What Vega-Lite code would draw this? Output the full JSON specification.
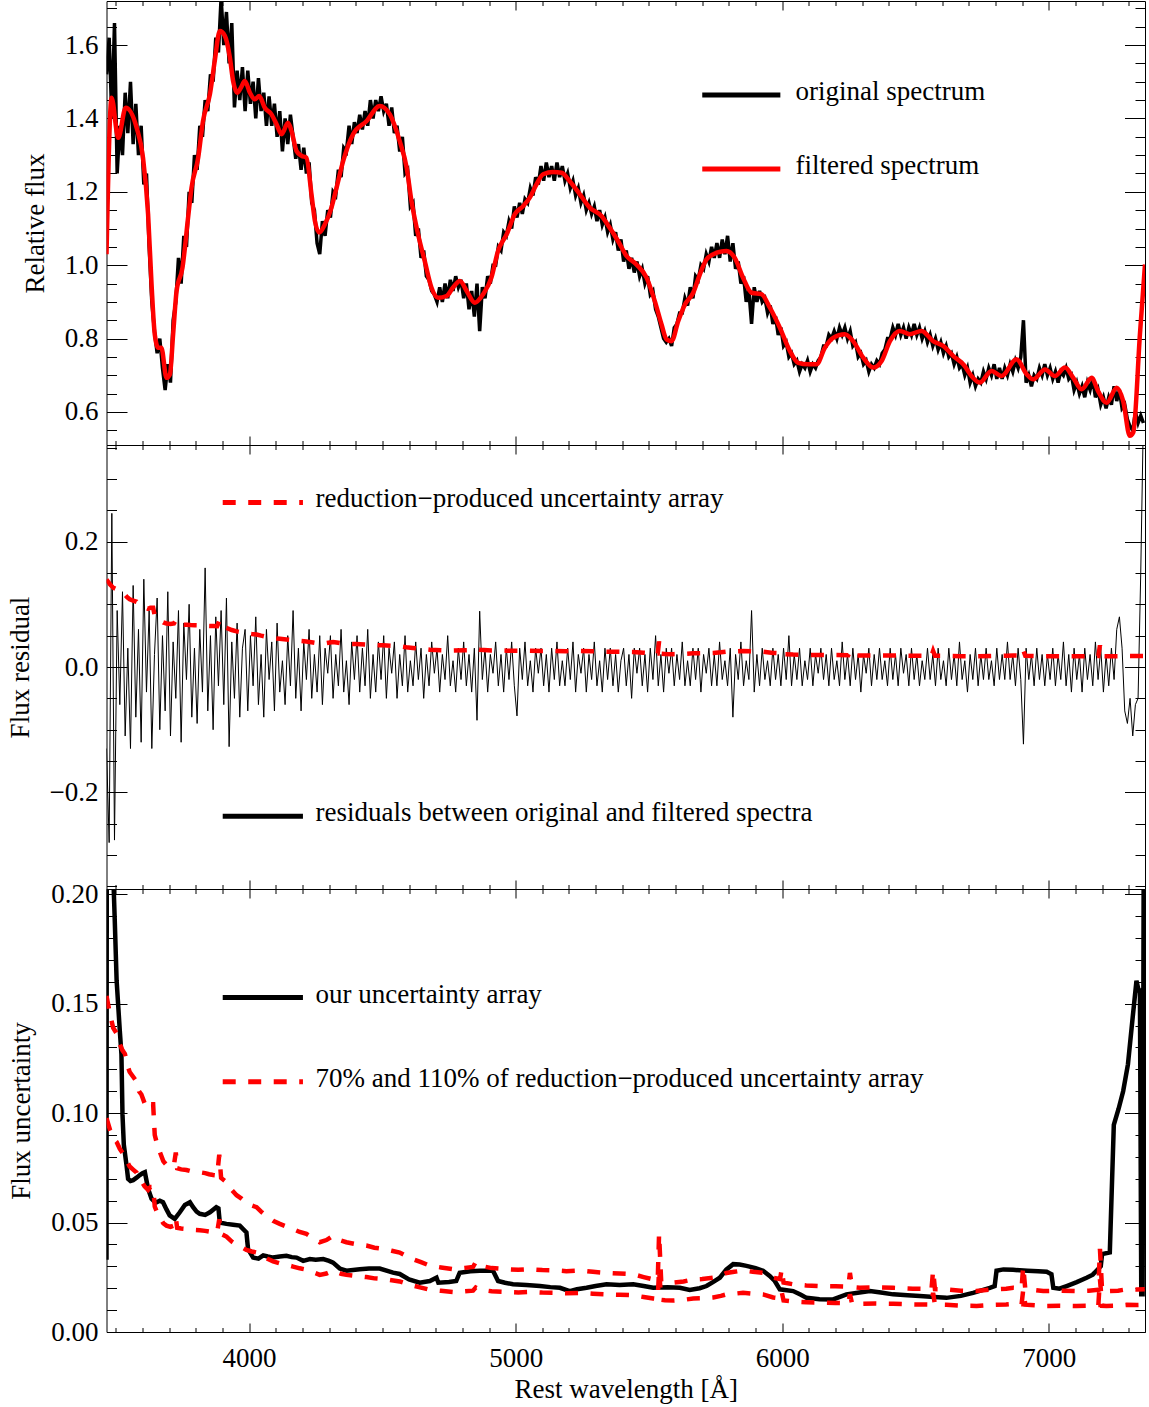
{
"$schema": "https://vega.github.io/schema/vega-lite/v6.json",
"background": "white",
"padding": {"left": 5.5, "top": 0, "right": 3, "bottom": 3},
"bounds": "flush",
"spacing": 0,
"resolve": {"scale": {"color": "independent", "strokeDash": "independent"}},
"config": {
  "view": {"stroke": null},
  "font": "Liberation Serif",
  "axis": {"labelFont": "Liberation Serif", "titleFont": "Liberation Serif", "labelFontSize": 27, "titleFontSize": 27, "titleFontWeight": "normal", "labelColor": "black", "titleColor": "black", "domainColor": "black", "tickColor": "black", "grid": false, "labelOverlap": false, "labelFlush": false, "domainWidth": 1, "tickWidth": 1}
},
"datasets": {
"spec": [
{"w":3465,"o":1.52,"r":-0.13},{"w":3475,"o":1.62,"r":-0.28},{"w":3485,"o":1.40,"r":0.245},{"w":3495,"o":1.66,"r":-0.276},{"w":3505,"o":1.25,"r":0.09},{"w":3515,"o":1.38,"r":-0.06},{"w":3525,"o":1.30,"r":0.12},{"w":3535,"o":1.47,"r":-0.11},{"w":3545,"o":1.36,"r":0.03},{"w":3555,"o":1.50,"r":-0.13},
{"w":3565,"o":1.33,"r":0.13},{"w":3575,"o":1.44,"r":-0.08},{"w":3585,"o":1.30,"r":0.06},{"w":3595,"o":1.38,"r":-0.12},{"w":3605,"o":1.22,"r":0.14},{"w":3615,"o":1.25,"r":-0.04},{"w":3625,"o":1.05,"r":0.09},{"w":3635,"o":0.90,"r":-0.13},{"w":3645,"o":0.82,"r":0.02},{"w":3655,"o":0.76,"r":0.11},
{"w":3665,"o":0.80,"r":-0.10},{"w":3675,"o":0.72,"r":0.05},{"w":3685,"o":0.66,"r":-0.07},{"w":3695,"o":0.73,"r":0.12},{"w":3705,"o":0.68,"r":-0.11},{"w":3715,"o":0.85,"r":0.04},{"w":3725,"o":0.90,"r":-0.05},{"w":3735,"o":1.02,"r":0.09},{"w":3745,"o":0.95,"r":-0.12},{"w":3755,"o":1.08,"r":0.07},
{"w":3765,"o":1.05,"r":-0.02},{"w":3775,"o":1.20,"r":0.10},{"w":3785,"o":1.17,"r":-0.08},{"w":3795,"o":1.30,"r":0.03},{"w":3805,"o":1.26,"r":-0.09},{"w":3815,"o":1.38,"r":0.06},{"w":3825,"o":1.35,"r":-0.04},{"w":3835,"o":1.45,"r":0.158},{"w":3845,"o":1.42,"r":-0.07},{"w":3855,"o":1.52,"r":0.05},
{"w":3865,"o":1.50,"r":-0.10},{"w":3875,"o":1.62,"r":0.08},{"w":3885,"o":1.58,"r":-0.03},{"w":3895,"o":1.73,"r":0.09},{"w":3905,"o":1.60,"r":-0.06},{"w":3915,"o":1.69,"r":0.11},{"w":3925,"o":1.55,"r":-0.127},{"w":3935,"o":1.66,"r":0.04},{"w":3945,"o":1.43,"r":-0.05},{"w":3955,"o":1.53,"r":0.07},
{"w":3965,"o":1.45,"r":-0.08},{"w":3975,"o":1.54,"r":0.03},{"w":3985,"o":1.42,"r":0.06},{"w":3995,"o":1.53,"r":-0.07},{"w":4005,"o":1.44,"r":0.05},{"w":4015,"o":1.50,"r":-0.03},{"w":4025,"o":1.40,"r":0.08},{"w":4035,"o":1.51,"r":-0.06},{"w":4045,"o":1.42,"r":0.02},{"w":4055,"o":1.47,"r":-0.08},
{"w":4065,"o":1.38,"r":0.06},{"w":4075,"o":1.46,"r":-0.02},{"w":4085,"o":1.38,"r":0.04},{"w":4095,"o":1.44,"r":-0.07},{"w":4105,"o":1.35,"r":0.07},{"w":4115,"o":1.42,"r":-0.04},{"w":4125,"o":1.31,"r":0.01},{"w":4135,"o":1.40,"r":-0.06},{"w":4145,"o":1.33,"r":0.05},{"w":4155,"o":1.41,"r":-0.03},
{"w":4165,"o":1.35,"r":0.09},{"w":4175,"o":1.29,"r":-0.05},{"w":4185,"o":1.33,"r":0.03},{"w":4195,"o":1.26,"r":-0.07},{"w":4205,"o":1.32,"r":0.04},{"w":4215,"o":1.25,"r":-0.02},{"w":4225,"o":1.28,"r":0.06},{"w":4235,"o":1.17,"r":-0.05},{"w":4245,"o":1.15,"r":0.02},{"w":4255,"o":1.06,"r":-0.04},
{"w":4265,"o":1.03,"r":0.05},{"w":4275,"o":1.12,"r":-0.06},{"w":4285,"o":1.08,"r":0.03},{"w":4295,"o":1.15,"r":-0.01},{"w":4305,"o":1.13,"r":0.05},{"w":4315,"o":1.20,"r":-0.05},{"w":4325,"o":1.19,"r":0.02},{"w":4335,"o":1.26,"r":-0.03},{"w":4345,"o":1.24,"r":0.06},{"w":4355,"o":1.32,"r":-0.04},
{"w":4365,"o":1.31,"r":0.01},{"w":4375,"o":1.38,"r":-0.06},{"w":4385,"o":1.33,"r":0.04},{"w":4395,"o":1.39,"r":-0.02},{"w":4405,"o":1.36,"r":0.05},{"w":4415,"o":1.41,"r":-0.04},{"w":4425,"o":1.37,"r":0.03},{"w":4435,"o":1.42,"r":-0.03},{"w":4445,"o":1.38,"r":0.06},{"w":4455,"o":1.45,"r":-0.05},
{"w":4465,"o":1.40,"r":0.02},{"w":4475,"o":1.45,"r":-0.04},{"w":4485,"o":1.42,"r":0.04},{"w":4495,"o":1.46,"r":-0.02},{"w":4505,"o":1.42,"r":0.05},{"w":4515,"o":1.44,"r":-0.05},{"w":4525,"o":1.38,"r":0.03},{"w":4535,"o":1.43,"r":-0.01},{"w":4545,"o":1.36,"r":0.04},{"w":4555,"o":1.38,"r":-0.05},
{"w":4565,"o":1.31,"r":0.02},{"w":4575,"o":1.35,"r":-0.03},{"w":4585,"o":1.25,"r":0.05},{"w":4595,"o":1.26,"r":-0.04},{"w":4605,"o":1.16,"r":0.01},{"w":4615,"o":1.17,"r":-0.03},{"w":4625,"o":1.08,"r":0.04},{"w":4635,"o":1.10,"r":-0.02},{"w":4645,"o":1.02,"r":0.03},{"w":4655,"o":1.04,"r":-0.05},
{"w":4665,"o":0.97,"r":0.02},{"w":4675,"o":0.96,"r":-0.03},{"w":4685,"o":0.93,"r":0.04},{"w":4695,"o":0.92,"r":-0.01},{"w":4705,"o":0.90,"r":0.03},{"w":4715,"o":0.94,"r":-0.04},{"w":4725,"o":0.90,"r":0.02},{"w":4735,"o":0.95,"r":-0.02},{"w":4745,"o":0.91,"r":0.05},{"w":4755,"o":0.96,"r":-0.03},
{"w":4765,"o":0.93,"r":0.01},{"w":4775,"o":0.97,"r":-0.04},{"w":4785,"o":0.94,"r":0.03},{"w":4795,"o":0.96,"r":-0.02},{"w":4805,"o":0.91,"r":0.04},{"w":4815,"o":0.95,"r":-0.03},{"w":4825,"o":0.88,"r":0.02},{"w":4835,"o":0.93,"r":-0.04},{"w":4845,"o":0.86,"r":0.03},{"w":4855,"o":0.95,"r":-0.085},
{"w":4865,"o":0.82,"r":0.089},{"w":4875,"o":0.94,"r":-0.02},{"w":4885,"o":0.91,"r":0.03},{"w":4895,"o":0.97,"r":-0.04},{"w":4905,"o":0.95,"r":0.02},{"w":4915,"o":1.00,"r":-0.01},{"w":4925,"o":1.00,"r":0.04},{"w":4935,"o":1.05,"r":-0.03},{"w":4945,"o":1.04,"r":0.02},{"w":4955,"o":1.09,"r":-0.04},
{"w":4965,"o":1.08,"r":0.03},{"w":4975,"o":1.12,"r":-0.02},{"w":4985,"o":1.10,"r":0.04},{"w":4995,"o":1.16,"r":-0.03},{"w":5005,"o":1.13,"r":-0.078},{"w":5015,"o":1.17,"r":0.03},{"w":5025,"o":1.14,"r":-0.02},{"w":5035,"o":1.18,"r":0.04},{"w":5045,"o":1.17,"r":-0.03},{"w":5055,"o":1.21,"r":0.01},
{"w":5065,"o":1.19,"r":-0.04},{"w":5075,"o":1.24,"r":0.03},{"w":5085,"o":1.22,"r":-0.01},{"w":5095,"o":1.27,"r":0.03},{"w":5105,"o":1.23,"r":-0.03},{"w":5115,"o":1.28,"r":0.02},{"w":5125,"o":1.24,"r":-0.04},{"w":5135,"o":1.27,"r":0.03},{"w":5145,"o":1.23,"r":-0.02},{"w":5155,"o":1.28,"r":0.04},
{"w":5165,"o":1.24,"r":-0.03},{"w":5175,"o":1.27,"r":0.01},{"w":5185,"o":1.23,"r":-0.03},{"w":5195,"o":1.25,"r":0.03},{"w":5205,"o":1.21,"r":-0.02},{"w":5215,"o":1.23,"r":0.04},{"w":5225,"o":1.19,"r":-0.04},{"w":5235,"o":1.21,"r":0.02},{"w":5245,"o":1.17,"r":-0.01},{"w":5255,"o":1.19,"r":0.03},
{"w":5265,"o":1.15,"r":-0.04},{"w":5275,"o":1.17,"r":0.02},{"w":5285,"o":1.14,"r":-0.02},{"w":5295,"o":1.16,"r":0.04},{"w":5305,"o":1.12,"r":-0.03},{"w":5315,"o":1.15,"r":0.01},{"w":5325,"o":1.11,"r":-0.04},{"w":5335,"o":1.13,"r":0.03},{"w":5345,"o":1.09,"r":-0.02},{"w":5355,"o":1.11,"r":0.03},
{"w":5365,"o":1.07,"r":-0.03},{"w":5375,"o":1.09,"r":0.02},{"w":5385,"o":1.04,"r":-0.04},{"w":5395,"o":1.07,"r":0.01},{"w":5405,"o":1.01,"r":0.03},{"w":5415,"o":1.04,"r":-0.03},{"w":5425,"o":0.99,"r":0.02},{"w":5435,"o":1.02,"r":-0.05},{"w":5445,"o":0.98,"r":0.03},{"w":5455,"o":1.01,"r":-0.01},
{"w":5465,"o":0.97,"r":0.03},{"w":5475,"o":0.99,"r":-0.03},{"w":5485,"o":0.95,"r":0.02},{"w":5495,"o":0.97,"r":-0.04},{"w":5505,"o":0.92,"r":0.03},{"w":5515,"o":0.93,"r":-0.02},{"w":5525,"o":0.88,"r":0.05},{"w":5535,"o":0.86,"r":-0.03},{"w":5545,"o":0.83,"r":0.02},{"w":5555,"o":0.80,"r":-0.04},
{"w":5565,"o":0.79,"r":0.03},{"w":5575,"o":0.80,"r":-0.01},{"w":5585,"o":0.78,"r":0.03},{"w":5595,"o":0.83,"r":-0.03},{"w":5605,"o":0.84,"r":0.02},{"w":5615,"o":0.87,"r":-0.02},{"w":5625,"o":0.87,"r":0.04},{"w":5635,"o":0.91,"r":-0.03},{"w":5645,"o":0.89,"r":0.01},{"w":5655,"o":0.94,"r":-0.03},
{"w":5665,"o":0.91,"r":0.03},{"w":5675,"o":0.97,"r":-0.02},{"w":5685,"o":0.96,"r":0.03},{"w":5695,"o":1.00,"r":-0.04},{"w":5705,"o":0.99,"r":0.02},{"w":5715,"o":1.03,"r":-0.01},{"w":5725,"o":1.01,"r":0.03},{"w":5735,"o":1.05,"r":-0.03},{"w":5745,"o":1.02,"r":0.02},{"w":5755,"o":1.06,"r":-0.03},
{"w":5765,"o":1.02,"r":0.04},{"w":5775,"o":1.07,"r":-0.02},{"w":5785,"o":1.03,"r":0.01},{"w":5795,"o":1.08,"r":-0.03},{"w":5805,"o":1.01,"r":0.03},{"w":5815,"o":1.06,"r":-0.08},{"w":5825,"o":0.99,"r":0.02},{"w":5835,"o":1.01,"r":-0.02},{"w":5845,"o":0.95,"r":0.04},{"w":5855,"o":0.97,"r":-0.03},
{"w":5865,"o":0.90,"r":0.01},{"w":5875,"o":0.93,"r":-0.02},{"w":5885,"o":0.84,"r":0.09},{"w":5895,"o":0.94,"r":-0.04},{"w":5905,"o":0.90,"r":0.02},{"w":5915,"o":0.93,"r":-0.03},{"w":5925,"o":0.90,"r":0.03},{"w":5935,"o":0.91,"r":-0.02},{"w":5945,"o":0.87,"r":0.01},{"w":5955,"o":0.89,"r":-0.03},
{"w":5965,"o":0.84,"r":0.03},{"w":5975,"o":0.86,"r":-0.02},{"w":5985,"o":0.81,"r":0.02},{"w":5995,"o":0.83,"r":-0.03},{"w":6005,"o":0.78,"r":0.03},{"w":6015,"o":0.79,"r":-0.02},{"w":6025,"o":0.75,"r":0.05},{"w":6035,"o":0.76,"r":-0.03},{"w":6045,"o":0.73,"r":0.02},{"w":6055,"o":0.74,"r":-0.02},
{"w":6065,"o":0.71,"r":0.03},{"w":6075,"o":0.73,"r":-0.03},{"w":6085,"o":0.72,"r":0.01},{"w":6095,"o":0.74,"r":-0.02},{"w":6105,"o":0.71,"r":0.03},{"w":6115,"o":0.73,"r":-0.03},{"w":6125,"o":0.72,"r":0.02},{"w":6135,"o":0.74,"r":-0.01},{"w":6145,"o":0.75,"r":0.03},{"w":6155,"o":0.78,"r":-0.02},
{"w":6165,"o":0.78,"r":0.02},{"w":6175,"o":0.81,"r":-0.03},{"w":6185,"o":0.80,"r":0.03},{"w":6195,"o":0.82,"r":-0.02},{"w":6205,"o":0.80,"r":0.01},{"w":6215,"o":0.83,"r":-0.03},{"w":6225,"o":0.81,"r":0.04},{"w":6235,"o":0.83,"r":-0.02},{"w":6245,"o":0.80,"r":0.02},{"w":6255,"o":0.82,"r":-0.03},
{"w":6265,"o":0.78,"r":0.03},{"w":6275,"o":0.79,"r":-0.02},{"w":6285,"o":0.75,"r":0.02},{"w":6295,"o":0.76,"r":-0.04},{"w":6305,"o":0.73,"r":0.02},{"w":6315,"o":0.74,"r":-0.01},{"w":6325,"o":0.71,"r":0.03},{"w":6335,"o":0.73,"r":-0.03},{"w":6345,"o":0.72,"r":0.02},{"w":6355,"o":0.74,"r":-0.02},
{"w":6365,"o":0.73,"r":0.03},{"w":6375,"o":0.76,"r":-0.02},{"w":6385,"o":0.77,"r":0.01},{"w":6395,"o":0.80,"r":-0.03},{"w":6405,"o":0.80,"r":0.03},{"w":6415,"o":0.83,"r":-0.02},{"w":6425,"o":0.81,"r":0.02},{"w":6435,"o":0.84,"r":-0.03},{"w":6445,"o":0.81,"r":0.03},{"w":6455,"o":0.83,"r":-0.01},
{"w":6465,"o":0.80,"r":0.02},{"w":6475,"o":0.83,"r":-0.03},{"w":6485,"o":0.81,"r":0.03},{"w":6495,"o":0.84,"r":-0.02},{"w":6505,"o":0.81,"r":0.02},{"w":6515,"o":0.83,"r":-0.03},{"w":6525,"o":0.80,"r":0.01},{"w":6535,"o":0.82,"r":-0.02},{"w":6545,"o":0.79,"r":0.03},{"w":6555,"o":0.81,"r":-0.02},
{"w":6565,"o":0.78,"r":0.02},{"w":6575,"o":0.80,"r":-0.03},{"w":6585,"o":0.77,"r":0.03},{"w":6595,"o":0.79,"r":-0.02},{"w":6605,"o":0.76,"r":0.01},{"w":6615,"o":0.78,"r":-0.03},{"w":6625,"o":0.75,"r":0.03},{"w":6635,"o":0.76,"r":-0.02},{"w":6645,"o":0.73,"r":0.02},{"w":6655,"o":0.75,"r":-0.03},
{"w":6665,"o":0.72,"r":0.04},{"w":6675,"o":0.73,"r":-0.02},{"w":6685,"o":0.70,"r":0.01},{"w":6695,"o":0.72,"r":-0.04},{"w":6705,"o":0.68,"r":0.02},{"w":6715,"o":0.70,"r":-0.02},{"w":6725,"o":0.67,"r":0.03},{"w":6735,"o":0.69,"r":-0.03},{"w":6745,"o":0.68,"r":0.02},{"w":6755,"o":0.71,"r":-0.02},
{"w":6765,"o":0.69,"r":0.03},{"w":6775,"o":0.72,"r":-0.02},{"w":6785,"o":0.70,"r":0.01},{"w":6795,"o":0.73,"r":-0.03},{"w":6805,"o":0.69,"r":0.03},{"w":6815,"o":0.72,"r":-0.02},{"w":6825,"o":0.69,"r":0.02},{"w":6835,"o":0.72,"r":-0.02},{"w":6845,"o":0.70,"r":0.04},{"w":6855,"o":0.73,"r":-0.02},
{"w":6865,"o":0.71,"r":0.02},{"w":6875,"o":0.74,"r":-0.03},{"w":6885,"o":0.72,"r":0.03},{"w":6895,"o":0.75,"r":-0.02},{"w":6905,"o":0.85,"r":-0.123},{"w":6915,"o":0.68,"r":0.03},{"w":6925,"o":0.70,"r":-0.02},{"w":6935,"o":0.67,"r":0.02},{"w":6945,"o":0.70,"r":-0.03},{"w":6955,"o":0.69,"r":0.03},
{"w":6965,"o":0.72,"r":-0.02},{"w":6975,"o":0.70,"r":0.02},{"w":6985,"o":0.73,"r":-0.03},{"w":6995,"o":0.70,"r":0.02},{"w":7005,"o":0.72,"r":-0.02},{"w":7015,"o":0.69,"r":0.03},{"w":7025,"o":0.71,"r":-0.03},{"w":7035,"o":0.68,"r":0.02},{"w":7045,"o":0.71,"r":-0.02},{"w":7055,"o":0.70,"r":0.04},
{"w":7065,"o":0.72,"r":-0.03},{"w":7075,"o":0.69,"r":0.02},{"w":7085,"o":0.70,"r":-0.04},{"w":7095,"o":0.66,"r":0.03},{"w":7105,"o":0.68,"r":-0.02},{"w":7115,"o":0.65,"r":0.02},{"w":7125,"o":0.67,"r":-0.04},{"w":7135,"o":0.64,"r":0.03},{"w":7145,"o":0.68,"r":-0.02},{"w":7155,"o":0.66,"r":0.02},
{"w":7165,"o":0.69,"r":-0.03},{"w":7175,"o":0.64,"r":0.04},{"w":7185,"o":0.66,"r":-0.02},{"w":7195,"o":0.62,"r":0.03},{"w":7205,"o":0.64,"r":-0.04},{"w":7215,"o":0.61,"r":0.02},{"w":7225,"o":0.64,"r":-0.03},{"w":7235,"o":0.62,"r":0.03},{"w":7245,"o":0.67,"r":-0.02},{"w":7255,"o":0.63,"r":0.06},
{"w":7265,"o":0.66,"r":0.08},{"w":7275,"o":0.61,"r":0.03},{"w":7285,"o":0.62,"r":-0.07},{"w":7295,"o":0.58,"r":-0.09},{"w":7305,"o":0.56,"r":-0.05},{"w":7315,"o":0.55,"r":-0.11},{"w":7325,"o":0.60,"r":-0.06},{"w":7335,"o":0.57,"r":-0.05},{"w":7345,"o":0.59,"r":0.15},{"w":7355,"o":0.57,"r":0.40}
],
"filt": [
{"w":3465,"f":1.03},{"w":3484,"f":1.456},{"w":3509,"f":1.347},{"w":3537,"f":1.429},{"w":3578,"f":1.375},{"w":3602,"f":1.293},{"w":3621,"f":1.139},{"w":3634,"f":0.948},{"w":3646,"f":0.812},{"w":3659,"f":0.775},
{"w":3671,"f":0.775},{"w":3690,"f":0.693},{"w":3703,"f":0.703},{"w":3715,"f":0.812},{"w":3728,"f":0.93},{"w":3750,"f":0.993},{"w":3771,"f":1.129},{"w":3784,"f":1.211},{"w":3809,"f":1.293},{"w":3827,"f":1.393},
{"w":3853,"f":1.466},{"w":3871,"f":1.556},{"w":3890,"f":1.638},{"w":3909,"f":1.625},{"w":3928,"f":1.565},{"w":3940,"f":1.502},{"w":3955,"f":1.47},{"w":3968,"f":1.482},{"w":3984,"f":1.502},{"w":4003,"f":1.47},
{"w":4021,"f":1.452},{"w":4038,"f":1.461},{"w":4059,"f":1.429},{"w":4084,"f":1.411},{"w":4103,"f":1.384},{"w":4122,"f":1.357},{"w":4146,"f":1.388},{"w":4159,"f":1.366},{"w":4178,"f":1.311},{"w":4197,"f":1.298},
{"w":4215,"f":1.293},{"w":4234,"f":1.193},{"w":4247,"f":1.12},{"w":4263,"f":1.089},{"w":4284,"f":1.111},{"w":4309,"f":1.157},{"w":4328,"f":1.211},{"w":4353,"f":1.284},{"w":4390,"f":1.357},{"w":4441,"f":1.393},
{"w":4490,"f":1.434},{"w":4528,"f":1.411},{"w":4565,"f":1.338},{"w":4591,"f":1.266},{"w":4609,"f":1.175},{"w":4634,"f":1.084},{"w":4659,"f":1.011},{"w":4684,"f":0.939},{"w":4709,"f":0.911},{"w":4741,"f":0.916},
{"w":4765,"f":0.939},{"w":4791,"f":0.957},{"w":4816,"f":0.93},{"w":4847,"f":0.898},{"w":4878,"f":0.921},{"w":4909,"f":0.966},{"w":4934,"f":1.039},{"w":4966,"f":1.084},{"w":4997,"f":1.139},{"w":5028,"f":1.161},
{"w":5053,"f":1.184},{"w":5078,"f":1.22},{"w":5103,"f":1.248},{"w":5141,"f":1.254},{"w":5172,"f":1.252},{"w":5203,"f":1.229},{"w":5241,"f":1.193},{"w":5278,"f":1.157},{"w":5322,"f":1.134},{"w":5353,"f":1.102},
{"w":5384,"f":1.066},{"w":5416,"f":1.025},{"w":5453,"f":1.002},{"w":5491,"f":0.966},{"w":5522,"f":0.902},{"w":5547,"f":0.839},{"w":5566,"f":0.798},{"w":5585,"f":0.793},{"w":5610,"f":0.848},{"w":5635,"f":0.893},
{"w":5666,"f":0.925},{"w":5691,"f":0.975},{"w":5716,"f":1.016},{"w":5754,"f":1.034},{"w":5791,"f":1.039},{"w":5822,"f":1.02},{"w":5853,"f":0.966},{"w":5885,"f":0.925},{"w":5922,"f":0.921},{"w":5954,"f":0.884},
{"w":5991,"f":0.83},{"w":6029,"f":0.766},{"w":6060,"f":0.734},{"w":6097,"f":0.73},{"w":6129,"f":0.73},{"w":6160,"f":0.775},{"w":6191,"f":0.802},{"w":6235,"f":0.812},{"w":6266,"f":0.793},{"w":6304,"f":0.748},
{"w":6341,"f":0.721},{"w":6373,"f":0.739},{"w":6404,"f":0.793},{"w":6441,"f":0.821},{"w":6479,"f":0.812},{"w":6523,"f":0.821},{"w":6566,"f":0.793},{"w":6604,"f":0.78},{"w":6641,"f":0.753},{"w":6679,"f":0.73},
{"w":6716,"f":0.693},{"w":6741,"f":0.68},{"w":6785,"f":0.712},{"w":6823,"f":0.698},{"w":6879,"f":0.744},{"w":6917,"f":0.703},{"w":6942,"f":0.689},{"w":6986,"f":0.716},{"w":7023,"f":0.698},{"w":7061,"f":0.721},
{"w":7092,"f":0.693},{"w":7123,"f":0.662},{"w":7161,"f":0.693},{"w":7185,"f":0.657},{"w":7217,"f":0.625},{"w":7255,"f":0.666},{"w":7279,"f":0.63},{"w":7304,"f":0.535},{"w":7317,"f":0.544},{"w":7342,"f":0.812},{"w":7361,"f":1.002}
],
"red": [
{"w":3465,"u":0.1396,"u70":0.0977,"u110":0.1536},{"w":3478,"u":0.132,"u70":0.0924,"u110":0.1452},{"w":3490,"u":0.1264,"u70":0.0885,"u110":0.139},{"w":3503,"u":0.124,"u70":0.0868,"u110":0.1364},{"w":3515,"u":0.1195,"u70":0.0837,"u110":0.1315},
{"w":3525,"u":0.117,"u70":0.0819,"u110":0.1287},{"w":3534,"u":0.1155,"u70":0.0809,"u110":0.1271},{"w":3543,"u":0.111,"u70":0.0777,"u110":0.1221},{"w":3552,"u":0.108,"u70":0.0756,"u110":0.1188},{"w":3565,"u":0.106,"u70":0.0742,"u110":0.1166},
{"w":3578,"u":0.104,"u70":0.0728,"u110":0.1144},{"w":3587,"u":0.1,"u70":0.07,"u110":0.11},{"w":3596,"u":0.0986,"u70":0.069,"u110":0.1085},{"w":3608,"u":0.095,"u70":0.0665,"u110":0.1045},{"w":3621,"u":0.0927,"u70":0.0649,"u110":0.102},
{"w":3630,"u":0.0945,"u70":0.0662,"u110":0.104},{"w":3640,"u":0.0945,"u70":0.0662,"u110":0.104},{"w":3646,"u":0.0818,"u70":0.0573,"u110":0.09},{"w":3655,"u":0.078,"u70":0.0546,"u110":0.0858},{"w":3665,"u":0.0748,"u70":0.0524,"u110":0.0823},
{"w":3678,"u":0.071,"u70":0.0497,"u110":0.0781},{"w":3690,"u":0.0694,"u70":0.0486,"u110":0.0763},{"w":3705,"u":0.0685,"u70":0.048,"u110":0.0754},{"w":3718,"u":0.0694,"u70":0.0486,"u110":0.0763},{"w":3725,"u":0.0745,"u70":0.0522,"u110":0.082},
{"w":3730,"u":0.068,"u70":0.0476,"u110":0.0748},{"w":3745,"u":0.0675,"u70":0.0473,"u110":0.0743},{"w":3765,"u":0.0673,"u70":0.0471,"u110":0.074},{"w":3780,"u":0.0668,"u70":0.0468,"u110":0.0735},{"w":3795,"u":0.0665,"u70":0.0466,"u110":0.0732},
{"w":3815,"u":0.0664,"u70":0.0465,"u110":0.073},{"w":3835,"u":0.066,"u70":0.0462,"u110":0.0726},{"w":3850,"u":0.0655,"u70":0.0459,"u110":0.0721},{"w":3865,"u":0.0652,"u70":0.0456,"u110":0.0717},{"w":3880,"u":0.065,"u70":0.0455,"u110":0.0715},
{"w":3888,"u":0.0736,"u70":0.0515,"u110":0.081},{"w":3895,"u":0.064,"u70":0.0448,"u110":0.0704},{"w":3915,"u":0.0623,"u70":0.0436,"u110":0.0685},{"w":3935,"u":0.059,"u70":0.0413,"u110":0.0649},{"w":3953,"u":0.0568,"u70":0.0398,"u110":0.0625},
{"w":3970,"u":0.0555,"u70":0.0389,"u110":0.0611},{"w":3990,"u":0.0536,"u70":0.0375,"u110":0.059},{"w":4010,"u":0.0525,"u70":0.0368,"u110":0.0578},{"w":4028,"u":0.0518,"u70":0.0363,"u110":0.057},{"w":4045,"u":0.05,"u70":0.035,"u110":0.055},
{"w":4065,"u":0.0482,"u70":0.0337,"u110":0.053},{"w":4090,"u":0.0462,"u70":0.0323,"u110":0.0508},{"w":4115,"u":0.0449,"u70":0.0314,"u110":0.0494},{"w":4140,"u":0.0438,"u70":0.0307,"u110":0.0482},{"w":4165,"u":0.0427,"u70":0.0299,"u110":0.047},
{"w":4190,"u":0.0415,"u70":0.0291,"u110":0.0457},{"w":4215,"u":0.0407,"u70":0.0285,"u110":0.0448},{"w":4240,"u":0.039,"u70":0.0273,"u110":0.0429},{"w":4265,"u":0.0373,"u70":0.0261,"u110":0.041},{"w":4290,"u":0.0382,"u70":0.0267,"u110":0.042},
{"w":4315,"u":0.04,"u70":0.028,"u110":0.044},{"w":4328,"u":0.0392,"u70":0.0274,"u110":0.0431},{"w":4345,"u":0.038,"u70":0.0266,"u110":0.0418},{"w":4365,"u":0.0373,"u70":0.0261,"u110":0.041},{"w":4400,"u":0.0365,"u70":0.0256,"u110":0.0402},
{"w":4440,"u":0.0359,"u70":0.0251,"u110":0.0395},{"w":4470,"u":0.035,"u70":0.0245,"u110":0.0385},{"w":4503,"u":0.0345,"u70":0.0242,"u110":0.038},{"w":4535,"u":0.0337,"u70":0.0236,"u110":0.0371},{"w":4565,"u":0.033,"u70":0.0231,"u110":0.0363},
{"w":4590,"u":0.0315,"u70":0.0221,"u110":0.0347},{"w":4614,"u":0.0303,"u70":0.0212,"u110":0.0333},{"w":4645,"u":0.029,"u70":0.0203,"u110":0.0319},{"w":4678,"u":0.0275,"u70":0.0193,"u110":0.0303},{"w":4720,"u":0.0268,"u70":0.0188,"u110":0.0295},
{"w":4765,"u":0.0261,"u70":0.0183,"u110":0.0287},{"w":4810,"u":0.0266,"u70":0.0186,"u110":0.0293},{"w":4840,"u":0.027,"u70":0.0189,"u110":0.0297},{"w":4850,"u":0.029,"u70":0.0203,"u110":0.0319},{"w":4866,"u":0.0275,"u70":0.0193,"u110":0.0303},
{"w":4910,"u":0.0265,"u70":0.0186,"u110":0.0292},{"w":4966,"u":0.0261,"u70":0.0183,"u110":0.0287},{"w":5010,"u":0.0258,"u70":0.0181,"u110":0.0284},{"w":5053,"u":0.0261,"u70":0.0183,"u110":0.0287},{"w":5100,"u":0.0257,"u70":0.018,"u110":0.0283},
{"w":5141,"u":0.0256,"u70":0.0179,"u110":0.0282},{"w":5190,"u":0.0253,"u70":0.0177,"u110":0.0278},{"w":5241,"u":0.0255,"u70":0.0179,"u110":0.0281},{"w":5290,"u":0.025,"u70":0.0175,"u110":0.0275},{"w":5341,"u":0.0245,"u70":0.0172,"u110":0.027},
{"w":5390,"u":0.0243,"u70":0.017,"u110":0.0267},{"w":5441,"u":0.024,"u70":0.0168,"u110":0.0264},{"w":5480,"u":0.0228,"u70":0.016,"u110":0.0251},{"w":5516,"u":0.0218,"u70":0.0153,"u110":0.024},{"w":5533,"u":0.0215,"u70":0.0151,"u110":0.0237},
{"w":5538,"u":0.0407,"u70":0.0285,"u110":0.0448},{"w":5546,"u":0.021,"u70":0.0147,"u110":0.0231},{"w":5560,"u":0.0207,"u70":0.0145,"u110":0.0228},{"w":5591,"u":0.0205,"u70":0.0144,"u110":0.0226},{"w":5630,"u":0.021,"u70":0.0147,"u110":0.0231},
{"w":5666,"u":0.0218,"u70":0.0153,"u110":0.024},{"w":5700,"u":0.022,"u70":0.0154,"u110":0.0242},{"w":5741,"u":0.0225,"u70":0.0158,"u110":0.0248},{"w":5770,"u":0.0235,"u70":0.0165,"u110":0.0259},{"w":5791,"u":0.0245,"u70":0.0172,"u110":0.027},
{"w":5820,"u":0.025,"u70":0.0175,"u110":0.0275},{"w":5853,"u":0.0255,"u70":0.0179,"u110":0.0281},{"w":5890,"u":0.025,"u70":0.0175,"u110":0.0275},{"w":5928,"u":0.0245,"u70":0.0172,"u110":0.027},{"w":5966,"u":0.0225,"u70":0.0158,"u110":0.0248},
{"w":5992,"u":0.022,"u70":0.0154,"u110":0.0242},{"w":5998,"u":0.0261,"u70":0.0183,"u110":0.0287},{"w":6005,"u":0.0205,"u70":0.0144,"u110":0.0226},{"w":6041,"u":0.0198,"u70":0.0139,"u110":0.0218},{"w":6090,"u":0.0194,"u70":0.0136,"u110":0.0213},
{"w":6141,"u":0.0191,"u70":0.0134,"u110":0.021},{"w":6200,"u":0.019,"u70":0.0133,"u110":0.0209},{"w":6248,"u":0.0188,"u70":0.0132,"u110":0.0207},{"w":6254,"u":0.0245,"u70":0.0172,"u110":0.027},{"w":6262,"u":0.0186,"u70":0.013,"u110":0.0205},
{"w":6291,"u":0.0184,"u70":0.0129,"u110":0.0202},{"w":6350,"u":0.0185,"u70":0.013,"u110":0.0204},{"w":6416,"u":0.0184,"u70":0.0129,"u110":0.0202},{"w":6490,"u":0.018,"u70":0.0126,"u110":0.0198},{"w":6560,"u":0.0178,"u70":0.0125,"u110":0.0196},
{"w":6566,"u":0.0255,"u70":0.0179,"u110":0.0281},{"w":6573,"u":0.0178,"u70":0.0125,"u110":0.0196},{"w":6616,"u":0.0177,"u70":0.0124,"u110":0.0195},{"w":6670,"u":0.0172,"u70":0.012,"u110":0.0189},{"w":6729,"u":0.017,"u70":0.0119,"u110":0.0187},
{"w":6792,"u":0.0177,"u70":0.0124,"u110":0.0195},{"w":6840,"u":0.018,"u70":0.0126,"u110":0.0198},{"w":6867,"u":0.0184,"u70":0.0129,"u110":0.0202},{"w":6898,"u":0.0182,"u70":0.0127,"u110":0.02},{"w":6904,"u":0.0273,"u70":0.0191,"u110":0.03},
{"w":6912,"u":0.0178,"u70":0.0125,"u110":0.0196},{"w":6979,"u":0.017,"u70":0.0119,"u110":0.0187},{"w":7040,"u":0.0172,"u70":0.012,"u110":0.0189},{"w":7104,"u":0.017,"u70":0.0119,"u110":0.0187},{"w":7150,"u":0.0172,"u70":0.012,"u110":0.0189},
{"w":7186,"u":0.0175,"u70":0.0123,"u110":0.0193},{"w":7192,"u":0.0345,"u70":0.0242,"u110":0.038},{"w":7200,"u":0.0172,"u70":0.012,"u110":0.0189},{"w":7217,"u":0.017,"u70":0.0119,"u110":0.0187},{"w":7260,"u":0.0172,"u70":0.012,"u110":0.0189},
{"w":7292,"u":0.0177,"u70":0.0124,"u110":0.0195},{"w":7330,"u":0.0176,"u70":0.0123,"u110":0.0194},{"w":7360,"u":0.0177,"u70":0.0124,"u110":0.0195}
],
"unc": [
{"w":3465,"e":0.033},{"w":3466,"e":0.21},{"w":3490,"e":0.21},{"w":3496,"e":0.188},{"w":3503,"e":0.1605},{"w":3515,"e":0.1375},{"w":3521,"e":0.127},{"w":3525,"e":0.0993},{"w":3530,"e":0.0855},{"w":3540,"e":0.0763},
{"w":3546,"e":0.07},{"w":3555,"e":0.069},{"w":3565,"e":0.0694},{"w":3578,"e":0.0705},{"w":3590,"e":0.0717},{"w":3600,"e":0.0725},{"w":3609,"e":0.073},{"w":3621,"e":0.0655},{"w":3634,"e":0.0609},{"w":3643,"e":0.0598},
{"w":3653,"e":0.0593},{"w":3665,"e":0.06},{"w":3677,"e":0.0593},{"w":3690,"e":0.056},{"w":3702,"e":0.0533},{"w":3721,"e":0.0517},{"w":3740,"e":0.0547},{"w":3759,"e":0.058},{"w":3778,"e":0.0593},{"w":3790,"e":0.057},
{"w":3803,"e":0.055},{"w":3815,"e":0.054},{"w":3835,"e":0.0535},{"w":3853,"e":0.0547},{"w":3877,"e":0.057},{"w":3885,"e":0.0565},{"w":3890,"e":0.05},{"w":3915,"e":0.0494},{"w":3940,"e":0.049},{"w":3965,"e":0.0486},
{"w":3990,"e":0.0455},{"w":3996,"e":0.0379},{"w":4015,"e":0.034},{"w":4035,"e":0.0335},{"w":4053,"e":0.035},{"w":4070,"e":0.0345},{"w":4090,"e":0.034},{"w":4115,"e":0.0345},{"w":4140,"e":0.0348},{"w":4160,"e":0.0342},
{"w":4178,"e":0.034},{"w":4203,"e":0.0325},{"w":4228,"e":0.0333},{"w":4250,"e":0.033},{"w":4278,"e":0.0333},{"w":4300,"e":0.0325},{"w":4315,"e":0.0317},{"w":4340,"e":0.029},{"w":4365,"e":0.028},{"w":4415,"e":0.0287},
{"w":4450,"e":0.029},{"w":4490,"e":0.029},{"w":4540,"e":0.0271},{"w":4565,"e":0.0265},{"w":4600,"e":0.024},{"w":4640,"e":0.0225},{"w":4678,"e":0.0233},{"w":4703,"e":0.0248},{"w":4710,"e":0.0225},{"w":4750,"e":0.0228},
{"w":4777,"e":0.0233},{"w":4790,"e":0.0271},{"w":4830,"e":0.0278},{"w":4865,"e":0.028},{"w":4915,"e":0.028},{"w":4934,"e":0.0233},{"w":4960,"e":0.0225},{"w":4990,"e":0.0218},{"w":5040,"e":0.0215},{"w":5091,"e":0.021},
{"w":5130,"e":0.0205},{"w":5166,"e":0.0202},{"w":5203,"e":0.0187},{"w":5230,"e":0.0195},{"w":5266,"e":0.0202},{"w":5300,"e":0.021},{"w":5341,"e":0.0218},{"w":5390,"e":0.0215},{"w":5441,"e":0.0218},{"w":5480,"e":0.021},
{"w":5516,"e":0.0202},{"w":5570,"e":0.0205},{"w":5616,"e":0.0202},{"w":5653,"e":0.0192},{"w":5690,"e":0.02},{"w":5716,"e":0.021},{"w":5740,"e":0.0228},{"w":5766,"e":0.0248},{"w":5790,"e":0.0285},{"w":5816,"e":0.031},
{"w":5840,"e":0.0308},{"w":5866,"e":0.0302},{"w":5900,"e":0.0292},{"w":5928,"e":0.028},{"w":5953,"e":0.0256},{"w":5972,"e":0.0233},{"w":5991,"e":0.0195},{"w":6041,"e":0.0187},{"w":6070,"e":0.017},{"w":6091,"e":0.0156},
{"w":6140,"e":0.015},{"w":6191,"e":0.0149},{"w":6241,"e":0.0172},{"w":6290,"e":0.018},{"w":6329,"e":0.0187},{"w":6370,"e":0.018},{"w":6416,"e":0.0172},{"w":6470,"e":0.0168},{"w":6516,"e":0.0164},{"w":6570,"e":0.016},
{"w":6616,"e":0.0156},{"w":6670,"e":0.0165},{"w":6716,"e":0.0179},{"w":6779,"e":0.0202},{"w":6797,"e":0.021},{"w":6804,"e":0.028},{"w":6830,"e":0.0286},{"w":6866,"e":0.0284},{"w":6920,"e":0.028},{"w":6960,"e":0.0278},
{"w":6992,"e":0.0275},{"w":7010,"e":0.0264},{"w":7017,"e":0.0202},{"w":7040,"e":0.0198},{"w":7067,"e":0.021},{"w":7105,"e":0.0228},{"w":7142,"e":0.0248},{"w":7165,"e":0.0262},{"w":7179,"e":0.028},{"w":7195,"e":0.03},
{"w":7200,"e":0.0356},{"w":7229,"e":0.0364},{"w":7244,"e":0.0946},{"w":7262,"e":0.102},{"w":7279,"e":0.11},{"w":7297,"e":0.1223},{"w":7316,"e":0.1452},{"w":7329,"e":0.1605},{"w":7337,"e":0.156},{"w":7342,"e":0.156},
{"w":7347,"e":0.0172},{"w":7352,"e":0.0172},{"w":7356,"e":0.21}
],
"leg1": [
{"s":"original spectrum","x1":5700,"x2":5993,"xt":6050,"y":1.4638},
{"s":"filtered spectrum","x1":5700,"x2":5993,"xt":6050,"y":1.262}
],
"leg2": [
{"s":"reduction−produced uncertainty array","x1":3901,"x2":4202,"xt":4249,"y":0.2625},
{"s":"residuals between original and filtered spectra","x1":3901,"x2":4202,"xt":4249,"y":-0.238}
],
"leg3": [
{"s":"our uncertainty array","x1":3901,"x2":4202,"xt":4249,"y":0.1528},
{"s":"70% and 110% of reduction−produced uncertainty array","x1":3901,"x2":4202,"xt":4249,"y":0.1143}
]
},
"vconcat": [
{
 "width": 1038.5, "height": 444,
 "resolve": {"axis": {"x": "independent", "y": "independent"}},
 "layer": [
  {"data": {"name": "spec"}, "mark": {"type": "line", "color": "black", "strokeWidth": 3.5, "clip": true},
   "encoding": {
    "x": {"field": "w", "type": "quantitative", "scale": {"domain": [3465, 7361], "nice": false, "zero": false},
      "axis": {"orient": "bottom", "title": null, "labels": false, "values": [3500,3600,3700,3800,3900,4000,4100,4200,4300,4400,4500,4600,4700,4800,4900,5000,5100,5200,5300,5400,5500,5600,5700,5800,5900,6000,6100,6200,6300,6400,6500,6600,6700,6800,6900,7000,7100,7200,7300],
        "tickSize": {"condition": {"test": "datum.value % 1000 === 0", "value": -9}, "value": -4.5}}},
    "y": {"field": "o", "type": "quantitative", "scale": {"domain": [0.51, 1.72], "nice": false, "zero": false},
      "axis": {"orient": "left", "title": "Relative flux", "format": ".1f", "values": [0.55,0.6,0.65,0.7,0.75,0.8,0.85,0.9,0.95,1,1.05,1.1,1.15,1.2,1.25,1.3,1.35,1.4,1.45,1.5,1.55,1.6,1.65,1.7],
        "labelExpr": "abs(datum.value*5-round(datum.value*5))<0.001 ? datum.label : ''",
        "labelFontSize": {"condition": {"test": "abs(datum.value*5-round(datum.value*5))<0.001", "value": 27}, "value": 0},
        "tickSize": {"condition": {"test": "abs(datum.value*5-round(datum.value*5))<0.001", "value": -20.5}, "value": -10},
        "labelPadding": 29, "titlePadding": 15}}
   }},
  {"data": {"name": "filt"}, "mark": {"type": "line", "color": "#ff0000", "strokeWidth": 4.5, "clip": true, "interpolate": "monotone"},
   "encoding": {
    "x": {"field": "w", "type": "quantitative",
      "axis": {"orient": "top", "title": null, "labels": false, "values": [3500,3600,3700,3800,3900,4000,4100,4200,4300,4400,4500,4600,4700,4800,4900,5000,5100,5200,5300,5400,5500,5600,5700,5800,5900,6000,6100,6200,6300,6400,6500,6600,6700,6800,6900,7000,7100,7200,7300],
        "tickSize": {"condition": {"test": "datum.value % 1000 === 0", "value": -9}, "value": -4.5}}},
    "y": {"field": "f", "type": "quantitative",
      "axis": {"orient": "right", "title": null, "labels": false, "values": [0.55,0.6,0.65,0.7,0.75,0.8,0.85,0.9,0.95,1,1.05,1.1,1.15,1.2,1.25,1.3,1.35,1.4,1.45,1.5,1.55,1.6,1.65,1.7],
        "tickSize": {"condition": {"test": "abs(datum.value*5-round(datum.value*5))<0.001", "value": -20.5}, "value": -10}}}
   }},
  {"data": {"name": "leg1"}, "mark": {"type": "rule", "strokeWidth": 5},
   "encoding": {
    "x": {"field": "x1", "type": "quantitative", "axis": null}, "x2": {"field": "x2"},
    "y": {"field": "y", "type": "quantitative", "axis": null},
    "color": {"field": "s", "type": "nominal", "scale": {"domain": ["original spectrum", "filtered spectrum"], "range": ["black", "#ff0000"]}, "legend": null}}},
  {"data": {"name": "leg1"}, "mark": {"type": "text", "align": "left", "baseline": "middle", "font": "Liberation Serif", "fontSize": 27, "dy": -3, "color": "black"},
   "encoding": {
    "x": {"field": "xt", "type": "quantitative", "axis": null},
    "y": {"field": "y", "type": "quantitative", "axis": null},
    "text": {"field": "s"}}}
 ]
},
{
 "width": 1038.5, "height": 444,
 "resolve": {"axis": {"x": "independent", "y": "independent"}},
 "layer": [
  {"data": {"name": "spec"}, "mark": {"type": "line", "color": "black", "strokeWidth": 1, "clip": true},
   "encoding": {
    "x": {"field": "w", "type": "quantitative", "scale": {"domain": [3465, 7361], "nice": false, "zero": false},
      "axis": {"orient": "bottom", "title": null, "labels": false, "values": [3500,3600,3700,3800,3900,4000,4100,4200,4300,4400,4500,4600,4700,4800,4900,5000,5100,5200,5300,5400,5500,5600,5700,5800,5900,6000,6100,6200,6300,6400,6500,6600,6700,6800,6900,7000,7100,7200,7300],
        "tickSize": {"condition": {"test": "datum.value % 1000 === 0", "value": -9}, "value": -4.5}}},
    "y": {"field": "r", "type": "quantitative", "scale": {"domain": [-0.354, 0.354], "nice": false, "zero": false},
      "axis": {"orient": "left", "title": "Flux residual", "format": ".1f", "values": [-0.35,-0.3,-0.25,-0.2,-0.15,-0.1,-0.05,0,0.05,0.1,0.15,0.2,0.25,0.3,0.35],
        "labelExpr": "abs(datum.value*5-round(datum.value*5))<0.001 ? datum.label : ''",
        "labelFontSize": {"condition": {"test": "abs(datum.value*5-round(datum.value*5))<0.001", "value": 27}, "value": 0},
        "tickSize": {"condition": {"test": "abs(datum.value*5-round(datum.value*5))<0.001", "value": -20.5}, "value": -10},
        "labelPadding": 29, "titlePadding": 15}}
   }},
  {"data": {"name": "red"}, "mark": {"type": "line", "color": "#ff0000", "strokeWidth": 4.5, "strokeDash": [13, 12.5], "clip": true},
   "encoding": {
    "x": {"field": "w", "type": "quantitative",
      "axis": {"orient": "top", "title": null, "labels": false, "values": [3500,3600,3700,3800,3900,4000,4100,4200,4300,4400,4500,4600,4700,4800,4900,5000,5100,5200,5300,5400,5500,5600,5700,5800,5900,6000,6100,6200,6300,6400,6500,6600,6700,6800,6900,7000,7100,7200,7300],
        "tickSize": {"condition": {"test": "datum.value % 1000 === 0", "value": -9}, "value": -4.5}}},
    "y": {"field": "u", "type": "quantitative",
      "axis": {"orient": "right", "title": null, "labels": false, "values": [-0.35,-0.3,-0.25,-0.2,-0.15,-0.1,-0.05,0,0.05,0.1,0.15,0.2,0.25,0.3,0.35],
        "tickSize": {"condition": {"test": "abs(datum.value*5-round(datum.value*5))<0.001", "value": -20.5}, "value": -10}}}
   }},
  {"data": {"name": "leg2"}, "mark": {"type": "rule", "strokeWidth": 5},
   "encoding": {
    "x": {"field": "x1", "type": "quantitative", "axis": null}, "x2": {"field": "x2"},
    "y": {"field": "y", "type": "quantitative", "axis": null},
    "color": {"field": "s", "type": "nominal", "scale": {"domain": ["reduction−produced uncertainty array", "residuals between original and filtered spectra"], "range": ["#ff0000", "black"]}, "legend": null},
    "strokeDash": {"field": "s", "type": "nominal", "scale": {"domain": ["reduction−produced uncertainty array", "residuals between original and filtered spectra"], "range": [[13, 12.5], [1, 0]]}, "legend": null}}},
  {"data": {"name": "leg2"}, "mark": {"type": "text", "align": "left", "baseline": "middle", "font": "Liberation Serif", "fontSize": 27, "dy": -3, "color": "black"},
   "encoding": {
    "x": {"field": "xt", "type": "quantitative", "axis": null},
    "y": {"field": "y", "type": "quantitative", "axis": null},
    "text": {"field": "s"}}}
 ]
},
{
 "width": 1038.5, "height": 443,
 "resolve": {"axis": {"x": "independent", "y": "independent"}},
 "layer": [
  {"data": {"name": "unc"}, "mark": {"type": "line", "color": "black", "strokeWidth": 4.5, "clip": true},
   "encoding": {
    "x": {"field": "w", "type": "quantitative", "scale": {"domain": [3465, 7361], "nice": false, "zero": false},
      "axis": {"orient": "bottom", "title": "Rest wavelength [Å]", "format": "d", "values": [3500,3600,3700,3800,3900,4000,4100,4200,4300,4400,4500,4600,4700,4800,4900,5000,5100,5200,5300,5400,5500,5600,5700,5800,5900,6000,6100,6200,6300,6400,6500,6600,6700,6800,6900,7000,7100,7200,7300],
        "labelExpr": "datum.value % 1000 === 0 ? datum.label : ''",
        "tickSize": {"condition": {"test": "datum.value % 1000 === 0", "value": -9}, "value": -4.5},
        "labelPadding": 22, "titlePadding": 1}},
    "y": {"field": "e", "type": "quantitative", "scale": {"domain": [0, 0.2024], "nice": false, "zero": false},
      "axis": {"orient": "left", "title": "Flux uncertainty", "format": ".2f", "values": [0,0.01,0.02,0.03,0.04,0.05,0.06,0.07,0.08,0.09,0.1,0.11,0.12,0.13,0.14,0.15,0.16,0.17,0.18,0.19,0.2],
        "labelExpr": "abs(datum.value*20-round(datum.value*20))<0.001 ? datum.label : ''",
        "labelFontSize": {"condition": {"test": "abs(datum.value*20-round(datum.value*20))<0.001", "value": 27}, "value": 0},
        "tickSize": {"condition": {"test": "abs(datum.value*20-round(datum.value*20))<0.001", "value": -20.5}, "value": -10},
        "labelPadding": 29, "titlePadding": 15}}
   }},
  {"data": {"name": "red"}, "mark": {"type": "line", "color": "#ff0000", "strokeWidth": 4.5, "strokeDash": [13, 12.5], "clip": true},
   "encoding": {
    "x": {"field": "w", "type": "quantitative",
      "axis": {"orient": "top", "title": null, "labels": false, "values": [3500,3600,3700,3800,3900,4000,4100,4200,4300,4400,4500,4600,4700,4800,4900,5000,5100,5200,5300,5400,5500,5600,5700,5800,5900,6000,6100,6200,6300,6400,6500,6600,6700,6800,6900,7000,7100,7200,7300],
        "tickSize": {"condition": {"test": "datum.value % 1000 === 0", "value": -9}, "value": -4.5}}},
    "y": {"field": "u70", "type": "quantitative",
      "axis": {"orient": "right", "title": null, "labels": false, "values": [0,0.01,0.02,0.03,0.04,0.05,0.06,0.07,0.08,0.09,0.1,0.11,0.12,0.13,0.14,0.15,0.16,0.17,0.18,0.19,0.2],
        "tickSize": {"condition": {"test": "abs(datum.value*20-round(datum.value*20))<0.001", "value": -20.5}, "value": -10}}}
   }},
  {"data": {"name": "red"}, "mark": {"type": "line", "color": "#ff0000", "strokeWidth": 4.5, "strokeDash": [13, 12.5], "clip": true},
   "encoding": {
    "x": {"field": "w", "type": "quantitative", "axis": null},
    "y": {"field": "u110", "type": "quantitative", "axis": null}
   }},
  {"data": {"name": "leg3"}, "mark": {"type": "rule", "strokeWidth": 5},
   "encoding": {
    "x": {"field": "x1", "type": "quantitative", "axis": null}, "x2": {"field": "x2"},
    "y": {"field": "y", "type": "quantitative", "axis": null},
    "color": {"field": "s", "type": "nominal", "scale": {"domain": ["our uncertainty array", "70% and 110% of reduction−produced uncertainty array"], "range": ["black", "#ff0000"]}, "legend": null},
    "strokeDash": {"field": "s", "type": "nominal", "scale": {"domain": ["our uncertainty array", "70% and 110% of reduction−produced uncertainty array"], "range": [[1, 0], [13, 12.5]]}, "legend": null}}},
  {"data": {"name": "leg3"}, "mark": {"type": "text", "align": "left", "baseline": "middle", "font": "Liberation Serif", "fontSize": 27, "dy": -3, "color": "black"},
   "encoding": {
    "x": {"field": "xt", "type": "quantitative", "axis": null},
    "y": {"field": "y", "type": "quantitative", "axis": null},
    "text": {"field": "s"}}}
 ]
}
]
}
